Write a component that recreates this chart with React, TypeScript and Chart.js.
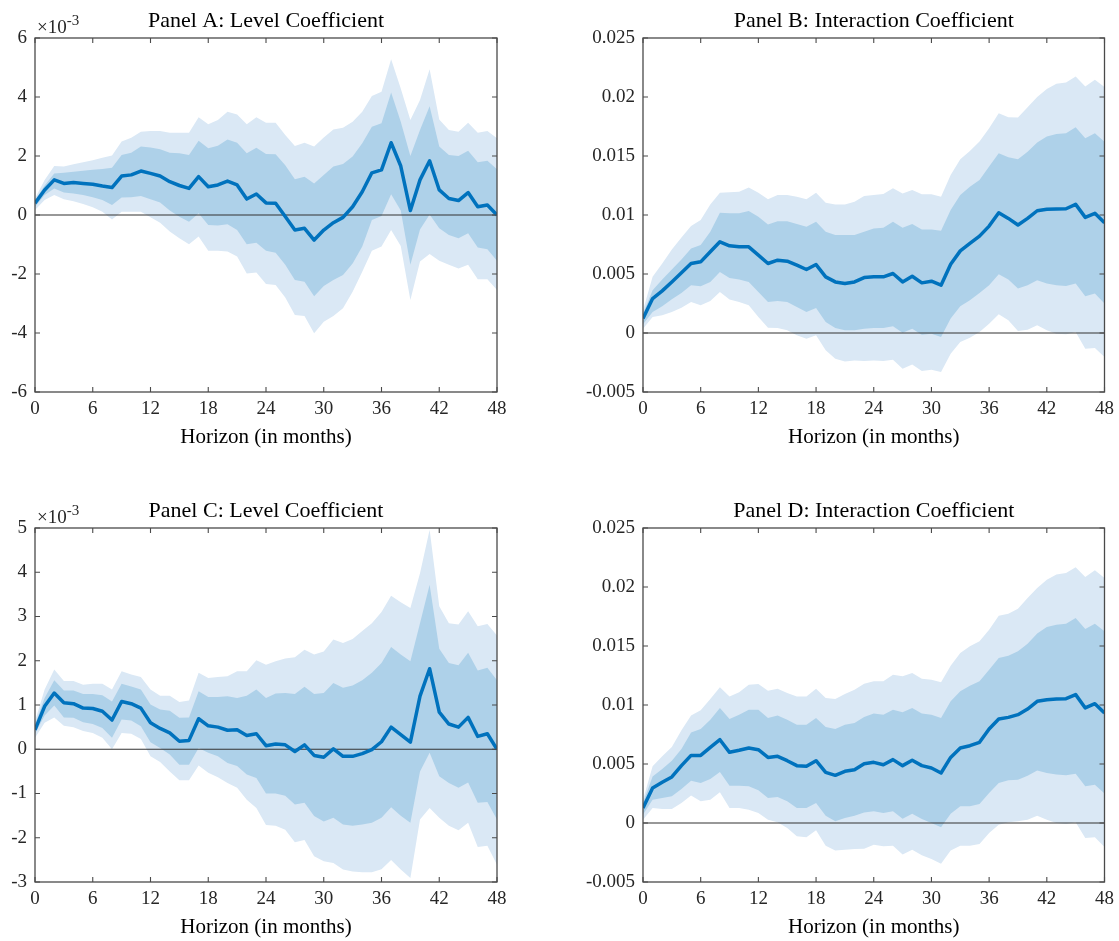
import React, { useEffect, useRef } from 'react';
import { Chart, registerables } from 'chart.js';

Chart.register(...registerables);

// Horizon in months (x positions of every estimate)
const HORIZON = Array.from({ length: 49 }, (_, i) => i);
const ZERO = HORIZON.map(() => 0);

// All coefficient arrays are in units of 10^-3.

// Panel A: level coefficient
const aMid = [0.40, 0.85, 1.19, 1.07, 1.10, 1.07, 1.04, 0.98, 0.93, 1.32, 1.36, 1.49, 1.41, 1.32, 1.13, 1.00, 0.90, 1.30, 0.96, 1.02, 1.15, 1.02, 0.54, 0.71, 0.41, 0.40, -0.05, -0.51, -0.45, -0.85, -0.51, -0.26, -0.08, 0.28, 0.79, 1.43, 1.53, 2.45, 1.66, 0.15, 1.19, 1.84, 0.85, 0.56, 0.49, 0.76, 0.28, 0.34, 0.00];
const aInnerHi = [0.50, 1.00, 1.41, 1.43, 1.47, 1.50, 1.53, 1.56, 1.60, 2.03, 2.11, 2.32, 2.29, 2.23, 2.11, 2.09, 2.03, 2.52, 2.26, 2.35, 2.56, 2.45, 2.09, 2.28, 2.07, 2.06, 1.69, 1.21, 1.30, 1.07, 1.36, 1.64, 1.73, 1.98, 2.43, 2.99, 3.11, 4.15, 3.16, 2.00, 2.88, 3.69, 2.32, 2.03, 2.00, 2.18, 1.79, 1.84, 1.55];
const aOuterHi = [0.56, 1.19, 1.66, 1.64, 1.72, 1.79, 1.86, 1.94, 2.02, 2.49, 2.62, 2.82, 2.85, 2.85, 2.79, 2.79, 2.79, 3.31, 3.08, 3.22, 3.50, 3.41, 3.08, 3.31, 3.13, 3.13, 2.71, 2.34, 2.45, 2.32, 2.63, 2.90, 2.96, 3.16, 3.50, 4.03, 4.18, 5.28, 4.29, 3.22, 3.90, 4.94, 3.24, 2.88, 2.82, 3.13, 2.79, 2.85, 2.60];
const aInnerLo = [0.28, 0.68, 0.90, 0.76, 0.73, 0.68, 0.60, 0.51, 0.34, 0.59, 0.60, 0.64, 0.53, 0.42, 0.15, -0.06, -0.23, 0.06, -0.34, -0.36, -0.31, -0.51, -0.99, -0.94, -1.21, -1.28, -1.69, -2.20, -2.26, -2.75, -2.41, -2.20, -2.03, -1.64, -1.07, -0.17, -0.03, 0.70, 0.15, -1.69, -0.49, 0.02, -0.45, -0.68, -0.79, -0.62, -1.10, -1.16, -1.55];
const aOuterLo = [0.17, 0.51, 0.68, 0.53, 0.47, 0.37, 0.26, 0.11, -0.15, 0.11, 0.11, 0.11, -0.08, -0.26, -0.56, -0.79, -0.99, -0.73, -1.21, -1.21, -1.24, -1.41, -1.98, -1.95, -2.34, -2.37, -2.80, -3.39, -3.42, -4.01, -3.62, -3.42, -3.16, -2.60, -1.92, -1.21, -1.07, -0.51, -1.05, -2.88, -1.58, -1.32, -1.55, -1.69, -1.81, -1.69, -2.18, -2.18, -2.54];

// Panel B: interaction coefficient
const bMid = [1.22, 2.92, 3.57, 4.33, 5.10, 5.89, 6.03, 6.88, 7.73, 7.39, 7.30, 7.30, 6.60, 5.89, 6.17, 6.09, 5.75, 5.38, 5.80, 4.76, 4.33, 4.19, 4.33, 4.70, 4.76, 4.76, 5.04, 4.33, 4.81, 4.25, 4.39, 4.05, 5.83, 6.96, 7.59, 8.21, 9.06, 10.19, 9.71, 9.15, 9.71, 10.36, 10.48, 10.50, 10.53, 10.90, 9.80, 10.14, 9.34];
const bInnerHi = [1.64, 3.62, 4.53, 5.38, 6.23, 7.16, 7.45, 8.58, 10.19, 10.14, 10.14, 10.33, 9.85, 9.20, 9.48, 9.48, 9.23, 9.00, 9.43, 8.58, 8.30, 8.30, 8.30, 8.58, 8.86, 8.92, 9.43, 8.92, 9.23, 8.78, 8.78, 8.66, 10.42, 11.69, 12.40, 12.97, 14.10, 15.23, 14.89, 14.72, 15.37, 16.14, 16.65, 16.87, 16.93, 17.44, 16.50, 16.93, 16.20];
const bOuterHi = [1.93, 4.76, 5.89, 7.08, 8.10, 9.06, 9.57, 10.90, 11.89, 11.92, 11.98, 12.32, 11.89, 11.33, 11.69, 11.69, 11.55, 11.33, 11.89, 11.04, 10.90, 10.90, 11.13, 11.61, 11.69, 11.78, 12.26, 11.83, 12.12, 11.75, 11.75, 11.55, 13.39, 14.72, 15.43, 16.22, 17.36, 18.63, 18.29, 18.26, 19.14, 19.99, 20.67, 21.12, 21.23, 21.74, 20.90, 21.46, 20.84];
const bInnerLo = [0.74, 1.78, 2.26, 2.86, 3.40, 4.05, 3.96, 4.33, 5.18, 4.67, 4.53, 4.33, 3.48, 2.63, 2.72, 2.63, 2.21, 1.78, 2.12, 0.93, 0.42, 0.23, 0.23, 0.37, 0.42, 0.42, 0.57, 0.03, 0.37, -0.14, -0.06, -0.34, 1.22, 2.26, 2.77, 3.40, 4.05, 4.98, 4.53, 3.77, 4.05, 4.47, 4.19, 4.05, 3.99, 4.19, 3.11, 3.34, 2.49];
const bOuterLo = [0.37, 1.36, 1.50, 1.78, 2.15, 2.63, 2.35, 2.72, 3.48, 2.83, 2.63, 2.35, 1.36, 0.45, 0.42, 0.23, -0.20, -0.48, -0.20, -1.47, -2.18, -2.42, -2.32, -2.38, -2.32, -2.38, -2.26, -3.03, -2.66, -3.23, -3.11, -3.31, -1.76, -0.76, -0.40, 0.08, 0.79, 1.59, 1.08, 0.17, 0.28, 0.65, 0.23, -0.06, -0.11, 0.08, -1.33, -1.27, -2.04];

// Panel C: level coefficient
const cMid = [0.44, 0.97, 1.27, 1.05, 1.03, 0.93, 0.92, 0.86, 0.66, 1.08, 1.03, 0.93, 0.60, 0.47, 0.37, 0.18, 0.20, 0.69, 0.53, 0.50, 0.43, 0.44, 0.31, 0.35, 0.08, 0.12, 0.10, -0.05, 0.10, -0.14, -0.18, 0.01, -0.16, -0.16, -0.10, -0.01, 0.17, 0.50, 0.33, 0.16, 1.20, 1.82, 0.84, 0.57, 0.50, 0.72, 0.29, 0.35, 0.00];
const cInnerHi = [0.56, 1.16, 1.56, 1.33, 1.33, 1.25, 1.25, 1.22, 1.08, 1.48, 1.42, 1.35, 1.01, 0.90, 0.87, 0.71, 0.72, 1.31, 1.18, 1.18, 1.20, 1.16, 1.21, 1.35, 1.16, 1.26, 1.27, 1.25, 1.41, 1.25, 1.27, 1.50, 1.39, 1.44, 1.56, 1.73, 1.95, 2.31, 2.14, 1.99, 2.85, 3.72, 2.27, 1.95, 1.90, 2.18, 1.78, 1.84, 1.56];
const cOuterHi = [0.63, 1.35, 1.80, 1.54, 1.54, 1.46, 1.48, 1.48, 1.35, 1.76, 1.69, 1.63, 1.35, 1.21, 1.21, 1.07, 1.10, 1.73, 1.61, 1.63, 1.65, 1.76, 1.76, 2.01, 1.91, 1.99, 2.05, 2.08, 2.25, 2.14, 2.21, 2.48, 2.40, 2.49, 2.67, 2.85, 3.10, 3.47, 3.32, 3.19, 3.98, 4.96, 3.23, 2.85, 2.82, 3.12, 2.78, 2.83, 2.57];
const cInnerLo = [0.35, 0.76, 0.99, 0.72, 0.71, 0.61, 0.57, 0.48, 0.26, 0.67, 0.65, 0.52, 0.16, 0.03, -0.12, -0.35, -0.35, 0.03, -0.08, -0.16, -0.31, -0.38, -0.57, -0.65, -1.00, -1.00, -1.05, -1.25, -1.21, -1.51, -1.63, -1.55, -1.70, -1.73, -1.70, -1.66, -1.55, -1.31, -1.50, -1.66, -0.50, -0.08, -0.61, -0.76, -0.87, -0.75, -1.21, -1.19, -1.59];
const cOuterLo = [0.26, 0.60, 0.72, 0.53, 0.50, 0.41, 0.37, 0.26, 0.00, 0.37, 0.35, 0.23, -0.16, -0.29, -0.50, -0.70, -0.70, -0.37, -0.53, -0.63, -0.76, -0.87, -1.14, -1.33, -1.71, -1.73, -1.82, -2.10, -2.05, -2.42, -2.53, -2.57, -2.72, -2.76, -2.78, -2.78, -2.71, -2.50, -2.72, -2.91, -1.59, -1.33, -1.55, -1.73, -1.83, -1.66, -2.21, -2.18, -2.61];

// Panel D: interaction coefficient
const dMid = [1.27, 2.97, 3.45, 3.90, 4.86, 5.73, 5.73, 6.41, 7.06, 5.99, 6.16, 6.36, 6.21, 5.56, 5.65, 5.28, 4.86, 4.80, 5.28, 4.29, 4.04, 4.38, 4.52, 5.03, 5.14, 4.94, 5.37, 4.86, 5.31, 4.86, 4.66, 4.24, 5.56, 6.36, 6.55, 6.84, 7.97, 8.81, 8.95, 9.18, 9.66, 10.31, 10.45, 10.51, 10.54, 10.88, 9.75, 10.11, 9.32];
const dInnerHi = [1.69, 3.95, 4.58, 5.28, 6.27, 7.68, 7.97, 8.76, 9.75, 8.81, 9.18, 9.60, 9.60, 8.90, 9.10, 8.76, 8.33, 8.33, 8.90, 8.14, 7.97, 8.33, 8.47, 8.98, 9.27, 9.18, 9.60, 9.38, 9.75, 9.27, 9.18, 8.90, 10.31, 11.16, 11.64, 12.01, 12.99, 13.98, 14.18, 14.55, 15.20, 16.05, 16.61, 16.81, 16.89, 17.37, 16.44, 16.89, 16.24];
const dOuterHi = [1.98, 4.80, 5.65, 6.44, 7.85, 9.10, 9.55, 10.51, 11.50, 10.73, 11.07, 11.72, 11.78, 11.21, 11.38, 11.02, 10.73, 10.73, 11.38, 10.59, 10.51, 10.93, 11.30, 11.81, 12.01, 12.01, 12.57, 12.43, 12.71, 12.23, 12.15, 11.92, 13.33, 14.41, 14.97, 15.40, 16.38, 17.57, 17.74, 18.16, 19.07, 19.92, 20.62, 21.05, 21.19, 21.67, 20.85, 21.41, 20.76];
const dInnerLo = [0.71, 1.98, 2.12, 2.26, 2.88, 3.59, 3.39, 3.73, 4.32, 3.16, 3.16, 3.11, 2.77, 2.12, 2.20, 1.84, 1.27, 1.27, 1.69, 0.62, 0.14, 0.42, 0.62, 0.90, 0.99, 0.85, 0.99, 0.37, 0.79, 0.34, 0.00, -0.37, 0.79, 1.41, 1.41, 1.61, 2.54, 3.39, 3.62, 3.67, 4.01, 4.44, 4.24, 4.10, 4.04, 4.18, 3.11, 3.25, 2.49];
const dOuterLo = [0.28, 1.27, 1.19, 1.19, 1.69, 2.32, 1.84, 1.98, 2.60, 1.27, 1.27, 1.13, 0.85, 0.28, 0.06, -0.42, -1.13, -1.21, -0.62, -1.92, -2.34, -2.26, -2.20, -2.18, -1.84, -1.98, -1.92, -2.68, -2.26, -2.74, -3.05, -3.45, -2.32, -1.92, -1.92, -1.78, -0.85, -0.14, 0.06, 0.14, 0.28, 0.62, 0.28, 0.00, -0.08, 0.06, -1.27, -1.21, -2.03];

const FONT = '"Liberation Serif", "Times New Roman", serif';
const LINE_BLUE = '#0072BD';
const INNER_BAND = '#AED1E9';
const OUTER_BAND = '#DAE8F5';
const AXIS_COLOR = '#4a4a4a';
const TEXT_COLOR = '#262626';
const TICK_LEN = 5;

const CANVAS_W = 560;
const CANVAS_H = 470;
const AREA_TOP = 38;
const AREA_BOTTOM = 392;

type PanelSpec = {
  title: string;
  mid: number[];
  innerHi: number[];
  innerLo: number[];
  outerHi: number[];
  outerLo: number[];
  yMin: number;
  yMax: number;
  yStep: number;
  exponent: boolean;
  left: number;
  top: number;
  axisWidth: number;
  padRight: number;
};

// milli-units shown either as plain integers (with a x10^-3 marker) or as decimals
const milliLabel = (v: number) => String(Math.round(v));
const decimalLabel = (v: number) => (Math.abs(v) < 1e-9 ? '0' : String(+(v / 1000).toFixed(3)));

// Box, inward ticks, title and exponent marker
const framePlugin = {
  id: 'frame',
  afterDatasetsDraw(chart: any, _args: any, opts: any) {
    const { ctx, chartArea: a, scales } = chart;
    ctx.save();
    ctx.strokeStyle = AXIS_COLOR;
    ctx.lineWidth = 1.3;
    ctx.strokeRect(a.left, a.top, a.right - a.left, a.bottom - a.top);
    ctx.lineWidth = 1.1;
    ctx.beginPath();
    for (const t of scales.x.ticks) {
      const px = scales.x.getPixelForValue(t.value);
      ctx.moveTo(px, a.bottom);
      ctx.lineTo(px, a.bottom - TICK_LEN);
      ctx.moveTo(px, a.top);
      ctx.lineTo(px, a.top + TICK_LEN);
    }
    for (const t of scales.y.ticks) {
      const py = scales.y.getPixelForValue(t.value);
      ctx.moveTo(a.left, py);
      ctx.lineTo(a.left + TICK_LEN, py);
      ctx.moveTo(a.right, py);
      ctx.lineTo(a.right - TICK_LEN, py);
    }
    ctx.stroke();

    ctx.fillStyle = '#000';
    ctx.font = `22px ${FONT}`;
    ctx.textAlign = 'center';
    ctx.textBaseline = 'alphabetic';
    ctx.fillText(opts.title, (a.left + a.right) / 2, a.top - 11);

    if (opts.exponent) {
      ctx.fillStyle = TEXT_COLOR;
      ctx.textAlign = 'left';
      ctx.font = `19px ${FONT}`;
      const base = '\u00d710';
      const x0 = a.left + 2;
      ctx.fillText(base, x0, a.top - 5);
      const w = ctx.measureText(base).width;
      ctx.font = `15px ${FONT}`;
      ctx.fillText('-3', x0 + w, a.top - 13);
    }
    ctx.restore();
  },
};

function Panel({ spec }: { spec: PanelSpec }) {
  const ref = useRef<HTMLCanvasElement>(null);

  useEffect(() => {
    const canvas = ref.current;
    if (!canvas) return;
    const pts = (arr: number[]) => HORIZON.map((m, i) => ({ x: m, y: arr[i] }));
    const band = (arr: number[], color: string, fill: number | boolean) => ({
      data: pts(arr),
      borderWidth: 0,
      borderColor: 'transparent',
      backgroundColor: color,
      pointRadius: 0,
      fill,
      tension: 0,
    });

    const chart = new Chart(canvas, {
      type: 'line',
      data: {
        datasets: [
          {
            data: pts(spec.mid),
            borderColor: LINE_BLUE,
            borderWidth: 3.5,
            pointRadius: 0,
            fill: false,
            tension: 0,
            borderJoinStyle: 'round',
          },
          {
            data: pts(ZERO),
            borderColor: '#333333',
            borderWidth: 1.1,
            pointRadius: 0,
            fill: false,
          },
          band(spec.innerHi, INNER_BAND, 3),
          band(spec.innerLo, INNER_BAND, false),
          band(spec.outerHi, OUTER_BAND, 5),
          band(spec.outerLo, OUTER_BAND, false),
        ],
      } as any,
      options: {
        responsive: false,
        animation: false,
        devicePixelRatio: 1,
        events: [],
        layout: { padding: { top: AREA_TOP, right: spec.padRight, left: 0, bottom: 0 } },
        plugins: {
          legend: { display: false },
          tooltip: { enabled: false },
          frame: { title: spec.title, exponent: spec.exponent },
        } as any,
        scales: {
          x: {
            type: 'linear',
            min: 0,
            max: 48,
            grid: { display: false, drawTicks: false },
            border: { display: false },
            ticks: {
              stepSize: 6,
              padding: 6,
              color: TEXT_COLOR,
              font: { family: FONT, size: 19 },
              maxRotation: 0,
            },
            title: {
              display: true,
              text: 'Horizon (in months)',
              color: '#000',
              font: { family: FONT, size: 21 },
              padding: { top: 0, bottom: 20 },
            },
            afterFit: (s: any) => {
              s.height = CANVAS_H - AREA_BOTTOM;
            },
          },
          y: {
            type: 'linear',
            min: spec.yMin,
            max: spec.yMax,
            grid: { display: false, drawTicks: false },
            border: { display: false },
            ticks: {
              stepSize: spec.yStep,
              padding: 8,
              color: TEXT_COLOR,
              font: { family: FONT, size: 19 },
              callback: (v: any) => (spec.exponent ? milliLabel(Number(v)) : decimalLabel(Number(v))),
            },
            afterFit: (s: any) => {
              s.width = spec.axisWidth;
            },
          },
        },
      } as any,
      plugins: [framePlugin],
    });

    return () => chart.destroy();
  }, [spec]);

  return (
    <canvas
      ref={ref}
      width={CANVAS_W}
      height={CANVAS_H}
      style={{ position: 'absolute', left: spec.left, top: spec.top, width: CANVAS_W, height: CANVAS_H }}
    />
  );
}

const PANELS: PanelSpec[] = [
  {
    title: 'Panel A: Level Coefficient',
    mid: aMid, innerHi: aInnerHi, innerLo: aInnerLo, outerHi: aOuterHi, outerLo: aOuterLo,
    yMin: -6, yMax: 6, yStep: 2, exponent: true,
    left: 0, top: 0, axisWidth: 35, padRight: 63,
  },
  {
    title: 'Panel B: Interaction Coefficient',
    mid: bMid, innerHi: bInnerHi, innerLo: bInnerLo, outerHi: bOuterHi, outerLo: bOuterLo,
    yMin: -5, yMax: 25, yStep: 5, exponent: false,
    left: 560, top: 0, axisWidth: 83, padRight: 13,
  },
  {
    title: 'Panel C: Level Coefficient',
    mid: cMid, innerHi: cInnerHi, innerLo: cInnerLo, outerHi: cOuterHi, outerLo: cOuterLo,
    yMin: -3, yMax: 5, yStep: 1, exponent: true,
    left: 0, top: 490, axisWidth: 35, padRight: 63,
  },
  {
    title: 'Panel D: Interaction Coefficient',
    mid: dMid, innerHi: dInnerHi, innerLo: dInnerLo, outerHi: dOuterHi, outerLo: dOuterLo,
    yMin: -5, yMax: 25, yStep: 5, exponent: false,
    left: 560, top: 490, axisWidth: 83, padRight: 13,
  },
];

export default function App() {
  return (
    <div
      style={{
        position: 'fixed',
        left: 0,
        top: 0,
        width: 1119,
        height: 941,
        overflow: 'hidden',
        background: '#ffffff',
      }}
    >
      {PANELS.map((p) => (
        <Panel key={p.title} spec={p} />
      ))}
    </div>
  );
}
